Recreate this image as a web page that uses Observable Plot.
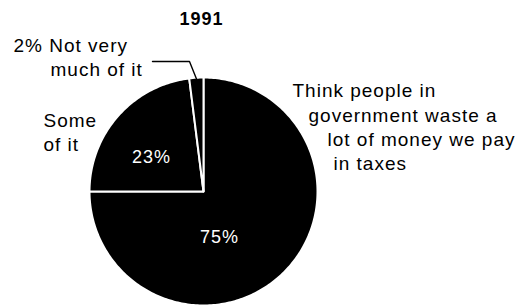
<!DOCTYPE html>
<html>
<head>
<meta charset="utf-8">
<script src="https://cdn.jsdelivr.net/npm/d3@7"></script>
<script src="https://cdn.jsdelivr.net/npm/@observablehq/plot@0.6"></script>
<style>
  html, body { margin: 0; padding: 0; background: #fff; }
  #chart svg { display: block; }
</style>
</head>
<body>
<div id="chart"></div>
<script>
// ---- data ----
const title = "1991";
const categories = ["A lot", "Some", "Not very much"];
const values = [75, 23, 2];
const percentLabels = ["75%", "23%", "2%"];
const bigLabelLines = ["Think people in", "government waste a", "lot of money we pay", "in taxes"];
const someLabelLines = ["Some", "of it"];
const notMuchLabelLines = ["2% Not very", "much of it"];

// ---- layout (pixels) ----
const W = 523, H = 305;
const CX = 203, CY = 191, R = 114;
const px = (x) => (x - CX) / R;   // pixel -> pie units
const py = (y) => (CY - y) / R;

// pie geometry from data
const arcs = d3.pie().sort(null).value(d => d)(values);
const piePts = [];
arcs.forEach((a, i) => {
  piePts.push({slice: categories[i], x: 0, y: 0});
  const n = Math.max(4, Math.ceil((a.endAngle - a.startAngle) / (Math.PI / 180)));
  for (let k = 0; k <= n; k++) {
    const t = a.startAngle + (a.endAngle - a.startAngle) * k / n;
    piePts.push({slice: categories[i], x: Math.sin(t), y: Math.cos(t)});
  }
});

// text annotations
const font = "Liberation Sans, Arial, Helvetica, sans-serif";
const bigPos = [[292, 96], [308, 121], [327, 145], [333, 169]];
const somePos = [[43, 126], [43, 150]];
const notPos = [[13, 51], [50, 75]];
const lines = [
  ...bigLabelLines.map((t, i) => ({t, x: px(bigPos[i][0]), y: py(bigPos[i][1])})),
  ...someLabelLines.map((t, i) => ({t, x: px(somePos[i][0]), y: py(somePos[i][1])})),
  ...notMuchLabelLines.map((t, i) => ({t, x: px(notPos[i][0]), y: py(notPos[i][1])}))
];
const pctPos = [[219, 242], [151, 162]];
const pcts = pctPos.map((p, i) => ({t: percentLabels[i], x: px(p[0]), y: py(p[1])}));
const titleRow = [{t: title, x: px(201), y: py(24)}];

// leader line for the 2% slice: ends at the slice's rim midpoint
const small = arcs[2];
const mid = (small.startAngle + small.endAngle) / 2;
const leader = [
  {x: px(152), y: py(61)},
  {x: px(189), y: py(61)},
  {x: Math.sin(mid) * 0.99, y: Math.cos(mid) * 0.99}
];

const chart = Plot.plot({
  width: W, height: H,
  margin: 0,
  x: {domain: [px(0), px(W)], axis: null},
  y: {domain: [py(H), py(0)], axis: null},
  style: {background: "#fff", letterSpacing: "1px"},
  marks: [
    Plot.line(piePts, {x: "x", y: "y", z: "slice", fill: "#000", stroke: "#fff", strokeWidth: 2, curve: "linear-closed"}),
    Plot.line(leader, {x: "x", y: "y", stroke: "#000", strokeWidth: 1.4}),
    Plot.text(lines, {x: "x", y: "y", text: "t", textAnchor: "start", lineAnchor: "bottom", fontSize: 19, fontFamily: font, fill: "#000"}),
    Plot.text(pcts, {x: "x", y: "y", text: "t", textAnchor: "middle", lineAnchor: "bottom", fontSize: 18, fontFamily: font, fill: "#fff"}),
    Plot.text(titleRow, {x: "x", y: "y", text: "t", textAnchor: "middle", lineAnchor: "bottom", fontSize: 18, fontWeight: "bold", fontFamily: font, fill: "#000"})
  ]
});
document.getElementById("chart").append(chart);
</script>
</body>
</html>
